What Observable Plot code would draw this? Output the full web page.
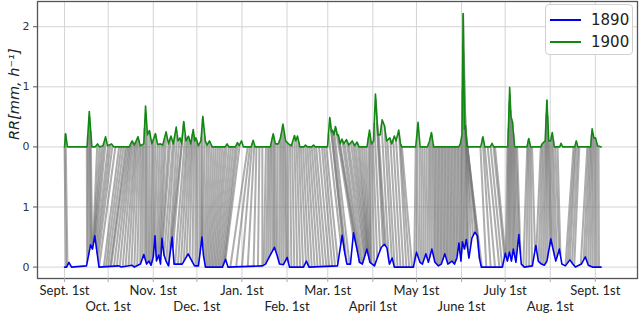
<!DOCTYPE html>
<html>
<head>
<meta charset="utf-8">
<script src="https://cdn.jsdelivr.net/npm/d3@7"></script>
<script src="https://cdn.jsdelivr.net/npm/@observablehq/plot@0.6"></script>
<style>
  body { margin: 0; background: #fff; }
  #wrap { position: relative; width: 640px; height: 313px; }
  .legend { position: absolute; left: 545px; top: 4px; width: 86px; height: 49px;
    border: 1px solid #d0d0d0; border-radius: 4px; background: rgba(255,255,255,0.9);
    font: 15px "DejaVu Sans", sans-serif; color: #222; }
  .row { position: absolute; left: 4px; height: 18px; display: flex; align-items: center; }
  .sw { width: 31px; height: 0; border-top: 2px solid; margin-right: 10px; }
</style>
</head>
<body>
<div id="wrap"></div>
<script>
// Month ticks (day index from Sept. 1st)
const monthDays = [0, 30, 61, 91, 122, 153, 181, 212, 242, 273, 303, 334, 365];
const monthLabels = ["Sept. 1st", "Oct. 1st", "Nov. 1st", "Dec. 1st", "Jan. 1st", "Feb. 1st",
  "Mar. 1st", "April 1st", "May 1st", "June 1st", "July 1st", "Aug. 1st", "Sept. 1st"];
const yTicks = [0, 1, 2, 3, 4];
const yTickLabels = ["0", "1", "0", "1", "2"];
const seriesNames = ["1890", "1900"];
const seriesColors = ["#0000ee", "#118811"];
const offset1900 = 2;

// 1890 rainfall [day, RR]
const rr1890 = [[0,0],[1.4,0],[3,0.08],[4.8,0],[15.1,0.02],[17.9,0.37],[19.2,0.3],[20.8,0.52],[22.3,0.25],[23.7,0],
  [37.3,0.02],[39,0],[46.5,0.03],[48,0],[52.2,0.05],[54.5,0.21],[56.4,0.05],[58.1,0.1],[59.5,0.03],[61,0.17],[62.2,0.52],
  [63.2,0.1],[64.8,0.2],[66,0.05],[67,0.48],[68.4,0.2],[69.8,0.1],[71.5,0.02],[74,0.5],[75.3,0.05],[80.9,0.05],[85,0.22],
  [87.6,0.1],[89.4,0.02],[92.1,0.02],[94.5,0.5],[95.5,0.2],[96.9,0],[108.6,0],[110.7,0.13],[112.4,0],[136.1,0.02],[138.2,0.05],
  [144.3,0.33],[146.1,0.2],[147.8,0.05],[150.5,0.04],[153.1,0.16],[154.7,0],[164.3,0],[166.3,0.1],[168.1,0],[187.7,0.02],
  [190.9,0.53],[192.8,0.22],[194.2,0.05],[196.6,0.05],[198.7,0.57],[201.1,0.3],[202.8,0.08],[204.8,0.05],[207.9,0.3],[210,0.08],
  [213.1,0.02],[215.8,0.2],[217.9,0.33],[220,0.38],[221.7,0.32],[223.4,0.05],[225.3,0.15],[226.8,0],[239.9,0],[242,0.25],
  [244.4,0.08],[246.1,0.05],[248.5,0.22],[250.2,0.08],[252.6,0.3],[254.7,0.08],[257.1,0.02],[259.1,0.05],[261.5,0.22],[263.6,0.05],
  [266.4,0.1],[268.1,0.05],[269.8,0.15],[271.2,0.4],[272.6,0.1],[273.6,0.42],[275,0.3],[276.3,0.46],[278.1,0.15],[280.1,0.48],
  [282.2,0.58],[283.9,0.52],[285.3,0.15],[286.6,0],[301.1,0],[303.1,0.23],[304.5,0.1],[305.9,0.25],[307.3,0.1],[308.6,0.3],
  [310.4,0.08],[312.4,0.54],[314.1,0.05],[316.2,0],[321.7,0.02],[324.1,0.36],[325.8,0.1],[327.9,0.05],[329.9,0.03],[331.7,0.1],
  [334.4,0.47],[336.1,0.28],[337.8,0.1],[340.3,0.3],[342,0.05],[344.4,0.02],[347.5,0.12],[349.5,0.05],[351.3,0],[355.4,0.05],
  [358.1,0.17],[360.2,0.03],[362.9,0],[369,0]];

// 1900 rainfall [day, RR]
const rr1900 = [[0,0],[0.7,0.22],[2,0],[15.5,0],[17,0.59],[18.8,0],[21,0],[22.7,0.05],[24,0],[26.5,0.02],[28.2,0.17],[29.5,0.02],
  [32.3,0.05],[34,0],[44.5,0],[46.5,0.1],[48,0.03],[50.5,0.17],[52,0.02],[54.5,0.05],[55.7,0.68],[57,0.2],[58.4,0.27],[60,0.05],
  [62.5,0.22],[64,0.04],[66,0.05],[67.5,0.03],[69.8,0.25],[71.5,0.05],[73.2,0.18],[74.8,0.05],[76.8,0.33],[78,0.1],[79.4,0.15],
  [80.5,0.05],[82,0.42],[83.5,0.1],[85.2,0.18],[86.8,0.05],[88.5,0.29],[89.5,0.1],[90.4,0.15],[92,0.02],[93.8,0.1],[95.1,0.51],
  [96.8,0.1],[98,0.03],[99.7,0.1],[101.5,0],[110.5,0],[111.8,0.05],[113,0],[117.5,0],[118.9,0.07],[120,0.02],[121.7,0.1],[123,0],
  [128.3,0],[129.7,0.11],[131,0],[141.5,0],[143.5,0.22],[145,0.05],[147,0.05],[148.5,0.15],[150.2,0.38],[152,0.1],[154,0.05],
  [156,0.02],[158.1,0.19],[159,0.1],[160.2,0.18],[161.8,0],[164.5,0],[165.7,0.03],[167,0],[170,0],[171.2,0.03],[172.5,0],
  [180.8,0],[182.4,0.49],[183.5,0.25],[184.2,0.28],[185.2,0.2],[186.3,0.34],[187.5,0.2],[188.3,0.2],[189.5,0.05],[190.7,0.13],
  [192,0.05],[193.8,0.12],[195.5,0.03],[197.8,0.1],[199.5,0.02],[201.1,0.08],[202.5,0],[208,0],[209.7,0.28],[211,0.05],
  [212.5,0.1],[213.8,0.88],[215.5,0.2],[217,0.2],[218.4,0.45],[220,0.35],[221.5,0.1],[223.7,0.15],[225,0.05],[226.8,0.18],
  [228,0.1],[229.8,0.28],[231,0.05],[232,0],[241.5,0],[243.1,0.41],[244.5,0],[249.5,0],[251,0.1],[252.3,0.24],[253.8,0],
  [271,0],[272.2,0.05],[273.3,0.2],[274.1,2.22],[275,0.3],[275.6,0.35],[276.8,0],[286.2,0],[287.7,0.17],[289,0],[292.8,0],
  [294,0.06],[295,0],[304.8,0],[306.1,0.99],[307,0.5],[308,0.42],[309.5,0],[318,0],[319.2,0.14],[320.5,0],[327.5,0],[328.4,0.05],
  [330.5,0.1],[331.7,0.78],[333,0.1],[334.3,0.1],[335.4,0.24],[336.8,0],[340.5,0],[341.4,0.06],[342.5,0],[350.8,0],[351.9,0.1],
  [353,0],[361.8,0],[362.8,0.3],[364,0.15],[365.1,0.15],[366.5,0.02],[369,0]];

// Alignment links [day in 1890, matched day in 1900]
const links = [[1,0],[2,0.7],
  [15.5,15.3],[16.5,16],[17.5,16.8],[18.3,17.3],[19,18],
  [19.5,22.5],[20,24],[20.5,25.5],[21,27],[21.5,28.5],[22,30],[22.5,31.5],[23,33],[23.7,35],
  [27,37.5],[28.5,39],[30,40.5],[31.5,42],
  [32,43],[34,44],[36,45],[38,46],[40,47],[42,48],[44,49],[46,50],[48,51],[50,52],[52,53],[53.5,54],[55,55],[56,56],
  [57,57],[58,58.5],[59,60],[60,61],[61,62.5],[62,64],[63,65.5],[64,67],[65,68.5],
  [65.5,70],[66.5,71.5],[67.5,73],[68.5,74.5],[70,76],[71.5,77.5],[73,79],[74,80.5],[74.5,82],
  [76,83],[78,84],[80,85],[82,86],[84,87],[86,88],[88,89],[90,90],[91.5,91],[93,92.5],[94,94],[94.5,95],
  [95,96.5],[96,98],[97,99.5],[98,101],[99,102.5],[100,104],[101,105.5],[102,107],[103,108.5],[104,110],[105,111.5],
  [106,113],[107,114.5],[108,116],[109,117.5],[110,119],[110.7,120.5],
  [114,126],[118,127.5],[122,129],[126,130.5],[130,132],[133,134],[136,136],
  [137,138.5],[138.5,140],[140,141],[141.5,142],[143,143],[144,144],[145,145],[146,146.5],[147.5,148],[149,149],[150.5,150],
  [152,151],[153,152],[154,153.5],[156,155],[158,156.5],[160,158],[162,159.5],[164,161],[166,162.5],[168,164],[170,165.5],
  [172,167],[174,168.5],[176,170],[178,171.5],[180,173],[182,175],
  [184,177],[186,178.5],[188,180],[190,181.5],[191,182.5],[192.5,183.5],[194,184.5],[196,185.5],[198.5,186.5],[200,188],
  [201.5,189.5],[203,191],[204,192.5],[205,194],[206,195.5],[206.5,197],[207,198.5],[207.5,200],[208,201.5],[208.5,203],
  [209,204.5],[209.5,206],[210,207.5],[210.5,209],[211,210],[213,211],[215,212],[217,213],[219,214],[220,215],
  [221,216],[223,218],[225,220],[227,222],[229,224],[231,226],[233,228],[235,230],[237,231],[239,232],
  [240.5,241.5],[242,243],[243.5,244.5],[245,246],[246.5,247.5],[248,249],[249.5,250.5],[251,251.5],[252.5,252.5],
  [254,253.5],[255,254.5],[256,255.5],[257,256.5],[258,257.5],[259,258.5],[260,259.5],[261,260.5],[262,261.5],[263,262.5],
  [264,263.5],[265,264.5],[266,265.5],[267,266.5],[268,267.5],[269,268.5],[270,269.5],[271,270.5],[272,271.5],[273,272.5],
  [274,273.2],[275,273.6],[276,273.9],[277,274.1],[278,274.4],
  [279.5,274.7],[281,275.2],[282.5,275.6],[284,276],[285.5,276.5],[287,277],[290,286],[293,287.5],[296,289],[299,291],
  [301,293],[302.5,295],[303,296],
  [303.5,304.5],[304.5,305.2],[305.5,305.8],[306.5,306.3],[307.5,306.8],[308.5,307.3],[309.5,308],[310.5,308.7],[311.5,309.5],
  [312.5,310.3],[313.5,311.2],
  [315.5,318.2],[317.5,319],[319.5,319.7],[321.5,320.5],[323.5,321.5],
  [324.5,327.5],[326,328.5],[327.5,329.5],[329,330.5],[330.5,331.3],[332,331.7],[333.5,332.2],[334.5,333],[335.5,334],
  [337,335],[338.5,336],[340,337.5],[341,339],
  [344.5,350],[346,351],[347.5,352],[349,353],[350.5,354],
  [355,359.5],[357,360.5],[358.5,361.5],[360,362.5],[361.5,363.3],[363,364],[364.5,365],[366,366],[367.5,367.2]];

// value lookup along the read series (to attach links to the curves)
const f1890 = d3.scaleLinear().domain(rr1890.map(d => d[0])).range(rr1890.map(d => d[1])).clamp(true);
const f1900 = d3.scaleLinear().domain(rr1900.map(d => d[0])).range(rr1900.map(d => d[1])).clamp(true);

const evenIdx = monthDays.filter((d, i) => i % 2 === 0);
const oddIdx = monthDays.filter((d, i) => i % 2 === 1);
const lab = d => monthLabels[monthDays.indexOf(d)];

const chart = Plot.plot({
  width: 640, height: 313,
  marginTop: 1, marginRight: 3, marginBottom: 35, marginLeft: 37,
  x: {domain: [-18.6, 394]},
  y: {domain: [-0.19, 4.42]},
  marks: [
    Plot.gridX(monthDays, {stroke: "#d4d4d4", strokeOpacity: 1, strokeWidth: 1}),
    Plot.gridY(yTicks, {stroke: "#d4d4d4", strokeOpacity: 1, strokeWidth: 1}),
    Plot.link(links, {
      x1: d => d[0], y1: d => f1890(d[0]),
      x2: d => d[1], y2: d => f1900(d[1]) + offset1900,
      stroke: "#777", strokeOpacity: 0.6, strokeWidth: 2
    }),
    Plot.line(rr1890, {x: d => d[0], y: d => d[1], stroke: seriesColors[0], strokeWidth: 1.6}),
    Plot.line(rr1900, {x: d => d[0], y: d => d[1] + offset1900, stroke: seriesColors[1], strokeWidth: 1.6}),
    Plot.frame({stroke: "#555", strokeWidth: 1.3}),
    Plot.axisX(evenIdx, {tickFormat: lab, tickSize: 4, tickPadding: 3, stroke: "#aaa",
      fontSize: 13, fontFamily: "Lato, 'Open Sans', sans-serif", fill: "#222", label: null}),
    Plot.axisX(oddIdx, {tickFormat: lab, tickSize: 4, tickPadding: 19, stroke: "#aaa",
      fontSize: 13, fontFamily: "Lato, 'Open Sans', sans-serif", fill: "#222", label: null}),
    Plot.axisY(yTicks, {tickFormat: d => yTickLabels[yTicks.indexOf(d)], tickSize: 4, tickPadding: 4,
      stroke: "#555", fontSize: 11, fontFamily: "'DejaVu Sans', sans-serif", fill: "#333", label: null}),
    Plot.text(["RR[mm, h⁻¹]"], {frameAnchor: "left", rotate: -90, dx: -23, fontSize: 14.5,
      fontStyle: "italic", fontFamily: "'DejaVu Sans', sans-serif", fill: "#222"})
  ]
});

const wrap = document.getElementById("wrap");
wrap.appendChild(chart);
const legend = document.createElement("div");
legend.className = "legend";
seriesNames.forEach((name, i) => {
  const row = document.createElement("div");
  row.className = "row";
  row.style.top = (6 + i * 22) + "px";
  const sw = document.createElement("div");
  sw.className = "sw";
  sw.style.borderTopColor = seriesColors[i];
  row.appendChild(sw);
  const t = document.createElement("span");
  t.textContent = name;
  row.appendChild(t);
  legend.appendChild(row);
});
wrap.appendChild(legend);
</script>
</body>
</html>
